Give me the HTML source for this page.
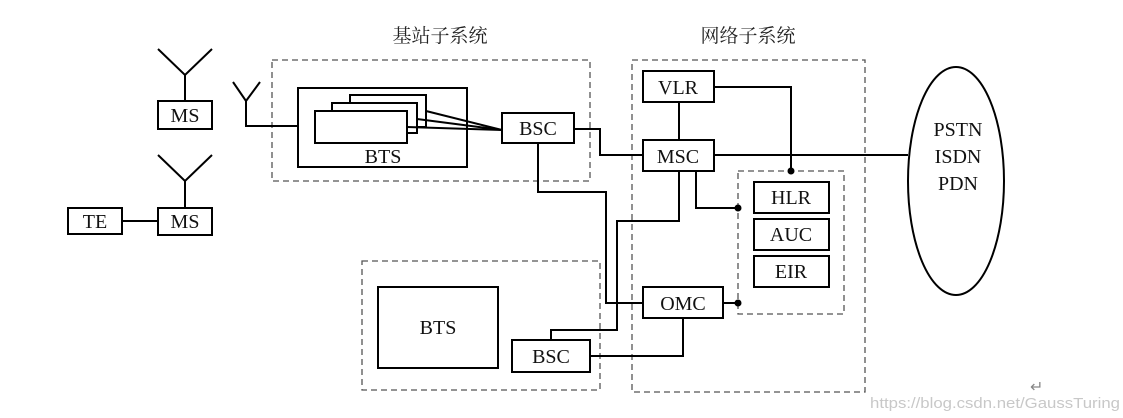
<!DOCTYPE html>
<html><head><meta charset="utf-8"><style>
html,body{margin:0;padding:0;background:#fff;}
svg{display:block}
text{font-family:"Liberation Serif","Noto Serif CJK SC",serif;font-size:20px;fill:#111;}
.cn{font-family:"Noto Serif CJK SC","Noto Sans CJK SC",serif;font-size:19px;fill:#222;}
</style></head><body>
<svg width="1123" height="418" viewBox="0 0 1123 418" xmlns="http://www.w3.org/2000/svg">
<g fill="none" stroke="#555" stroke-width="1.3" stroke-dasharray="6,4">
<rect x="272" y="60" width="318" height="121"/>
<rect x="632" y="60" width="233" height="332"/>
<rect x="362" y="261" width="238" height="129"/>
<rect x="738" y="171" width="106" height="143"/>
</g>
<g fill="none" stroke="#000" stroke-width="2">
<polyline points="158,49 185,75 212,49"/><line x1="185" y1="75" x2="185" y2="101"/>
<polyline points="158,155 185,181 212,155"/><line x1="185" y1="181" x2="185" y2="208"/>
<polyline points="233,82 246,101 260,82"/><polyline points="246,101 246,126 298,126"/>
<rect x="158" y="101" width="54" height="28"/>
<rect x="158" y="208" width="54" height="27"/>
<rect x="68" y="208" width="54" height="26"/>
<line x1="122" y1="221" x2="158" y2="221"/>
<rect x="298" y="88" width="169" height="79"/>
<rect x="350" y="95" width="76" height="32" fill="#fff"/>
<rect x="332" y="103" width="85" height="30" fill="#fff"/>
<rect x="315" y="111" width="92" height="32" fill="#fff"/>
<line x1="426" y1="111" x2="502" y2="130"/>
<line x1="417" y1="119" x2="502" y2="130"/>
<line x1="407" y1="127" x2="502" y2="130"/>
<rect x="502" y="113" width="72" height="30"/>
<polyline points="574,129 600,129 600,155 643,155"/>
<polyline points="538,143 538,192 606,192 606,303 643,303"/>
<rect x="643" y="71" width="71" height="31"/>
<rect x="643" y="140" width="71" height="31"/>
<line x1="679" y1="102" x2="679" y2="140"/>
<polyline points="714,87 791,87 791,171"/>
<line x1="714" y1="155" x2="908" y2="155"/>
<polyline points="679,171 679,221 617,221 617,330 551,330 551,340"/>
<polyline points="696,171 696,208 738,208"/>
<rect x="643" y="287" width="80" height="31"/>
<line x1="723" y1="303" x2="738" y2="303"/>
<rect x="512" y="340" width="78" height="32"/>
<polyline points="590,356 683,356 683,318"/>
<rect x="754" y="182" width="75" height="31"/>
<rect x="754" y="219" width="75" height="31"/>
<rect x="754" y="256" width="75" height="31"/>
<rect x="378" y="287" width="120" height="81"/>
<ellipse cx="956" cy="181" rx="48" ry="114"/>
</g>
<g fill="#000"><circle cx="791" cy="171" r="3.5"/><circle cx="738" cy="208" r="3.5"/><circle cx="738" cy="303" r="3.5"/></g>
<text class="cn" x="440" y="42" text-anchor="middle">基站子系统</text>
<text class="cn" x="748" y="42" text-anchor="middle">网络子系统</text>
<g text-anchor="middle">
<text x="185" y="122">MS</text>
<text x="185" y="228">MS</text>
<text x="95" y="228">TE</text>
<text x="383" y="163">BTS</text>
<text x="538" y="135">BSC</text>
<text x="678" y="94">VLR</text>
<text x="678" y="163">MSC</text>
<text x="683" y="310">OMC</text>
<text x="551" y="363">BSC</text>
<text x="438" y="334">BTS</text>
<text x="791" y="204">HLR</text>
<text x="791" y="241">AUC</text>
<text x="791" y="278">EIR</text>
<text x="958" y="136">PSTN</text>
<text x="958" y="163">ISDN</text>
<text x="958" y="190">PDN</text>
</g>
<text x="1030" y="392" style="font-size:16px;fill:#888">↵</text>
<text x="870" y="408" textLength="250" lengthAdjust="spacingAndGlyphs" style="font-family:'Liberation Sans',sans-serif;font-size:14.5px;fill:#c8c8c8">https://blog.csdn.net/GaussTuring</text>
</svg>
</body></html>
